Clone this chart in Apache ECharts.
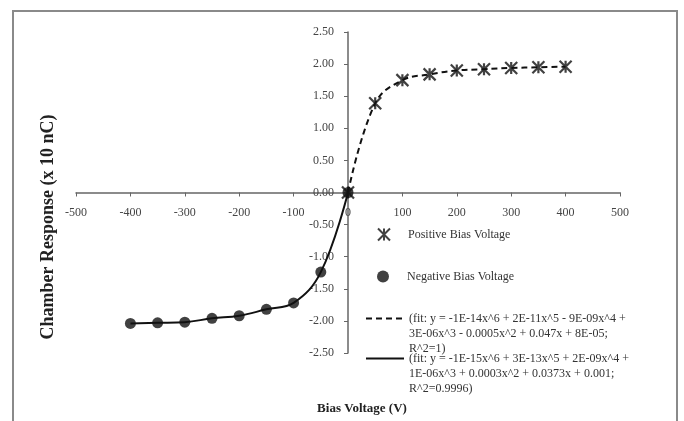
<!DOCTYPE html>
<html>
<head>
<meta charset="utf-8">
<script src="https://cdn.jsdelivr.net/npm/echarts@6/dist/echarts.min.js"></script>
<style>
  html, body { margin: 0; padding: 0; background: #fff; }
  #chart { width: 684px; height: 421px; }
</style>
</head>
<body>
<div id="chart"></div>
<script>
// values
const posVoltage = [0, 50, 100, 150, 200, 250, 300, 350, 400];
const posResponse = [0, 1.39, 1.75, 1.84, 1.90, 1.92, 1.94, 1.95, 1.96];
const negVoltage = [-400, -350, -300, -250, -200, -150, -100, -50, 0];
const negResponse = [-2.04, -2.03, -2.02, -1.96, -1.92, -1.82, -1.72, -1.24, 0];

const posName = 'Positive Bias Voltage';
const negName = 'Negative Bias Voltage';
const posFitName = '(fit: y = -1E-14x^6 + 2E-11x^5 - 9E-09x^4 +\n3E-06x^3 - 0.0005x^2 + 0.047x + 8E-05;\nR^2=1)';
const negFitName = '(fit: y = -1E-15x^6 + 3E-13x^5 + 2E-09x^4 +\n1E-06x^3 + 0.0003x^2 + 0.0373x + 0.001;\nR^2=0.9996)';

const posData = posVoltage.map((v, i) => [v, posResponse[i]]);
const negData = negVoltage.map((v, i) => [v, negResponse[i]]);

const serif = '"Liberation Serif", "Times New Roman", serif';
const starPath = 'path://M0,0L10,10M10,0L0,10M5,0L5,10';

const chart = echarts.init(document.getElementById('chart'));

const legendText = { fontFamily: serif, fontSize: 12, color: '#333', lineHeight: 15 };
// marker legends: push the text a bit away from the marker
const markerLegendText = Object.assign({}, legendText, {
  rich: { t: { fontFamily: serif, fontSize: 12, color: '#333', padding: [0, 0, 0, 13] } }
});

// grid: 76..620 wide, 32..353 tall -> axes cross at the middle
chart.setOption({
  animation: false,
  grid: { left: 76, right: 64, top: 32, bottom: 68 },
  xAxis: {
    type: 'value',
    min: -500,
    max: 500,
    interval: 100,
    offset: -160.5,
    axisLine: { onZero: false, lineStyle: { color: '#666', width: 1.5 } },
    axisTick: { show: true, length: 4, lineStyle: { color: '#666' } },
    axisLabel: { margin: 14, fontFamily: serif, fontSize: 12, color: '#444' },
    splitLine: { show: false }
  },
  yAxis: {
    type: 'value',
    min: -2.5,
    max: 2.5,
    interval: 0.5,
    offset: -272,
    axisLine: { onZero: false, lineStyle: { color: '#666', width: 1.5 } },
    axisTick: { show: true, length: 4, lineStyle: { color: '#666' } },
    axisLabel: {
      margin: 14, fontFamily: serif, fontSize: 12, color: '#444',
      formatter: v => v.toFixed(2)
    },
    splitLine: { show: false }
  },
  legend: [
    {
      data: [posName], left: 377, top: 227, padding: 0, orient: 'vertical',
      itemWidth: 12, itemHeight: 12,
      formatter: name => '{t|' + name + '}',
      textStyle: markerLegendText
    },
    {
      data: [negName], left: 377, top: 269, padding: 0, orient: 'vertical',
      itemWidth: 12, itemHeight: 12,
      formatter: name => '{t|' + name + '}',
      textStyle: markerLegendText
    },
    {
      data: [posFitName], left: 365, top: 281, padding: 0, orient: 'vertical',
      itemWidth: 38, itemHeight: 14, itemStyle: { opacity: 0 },
      formatter: name => '\n\n' + name,
      textStyle: legendText
    },
    {
      data: [negFitName], left: 365, top: 321, padding: 0, orient: 'vertical',
      itemWidth: 38, itemHeight: 14, itemStyle: { opacity: 0 },
      formatter: name => '\n\n' + name,
      textStyle: legendText
    }
  ],
  graphic: [
    {
      type: 'rect',
      shape: { x: 13, y: 11, width: 664, height: 430 },
      style: { fill: 'none', stroke: '#8a8a8a', lineWidth: 2 },
      silent: true
    },
    {
      type: 'text',
      x: 48, y: 227,
      rotation: Math.PI / 2,
      style: {
        text: 'Chamber Response (x 10 nC)',
        fontFamily: serif, fontSize: 18, fontWeight: 'bold', fill: '#222',
        align: 'center', verticalAlign: 'middle'
      }
    },
    {
      type: 'text',
      x: 362, y: 409,
      style: {
        text: 'Bias Voltage (V)',
        fontFamily: serif, fontSize: 13, fontWeight: 'bold', fill: '#222',
        align: 'center', verticalAlign: 'middle'
      }
    }
  ],
  series: [
    {
      name: posFitName,
      type: 'line',
      data: posData,
      smooth: 0.4,
      symbol: 'none',
      itemStyle: { color: '#111' },
      lineStyle: { color: '#111', width: 2, type: [6, 4] },
      z: 2
    },
    {
      name: negFitName,
      type: 'line',
      data: negData,
      smooth: 0.4,
      symbol: 'none',
      itemStyle: { color: '#111' },
      lineStyle: { color: '#111', width: 2, type: 'solid' },
      z: 2
    },
    {
      name: negName,
      type: 'scatter',
      data: negData,
      symbol: 'circle',
      symbolSize: 11,
      itemStyle: { color: '#111' },
      z: 3
    },
    {
      name: posName,
      type: 'scatter',
      data: posData,
      symbol: starPath,
      symbolSize: 12,
      itemStyle: { color: '#111', borderColor: '#111', borderWidth: 2.2 },
      z: 4
    }
  ]
});
</script>
</body>
</html>
